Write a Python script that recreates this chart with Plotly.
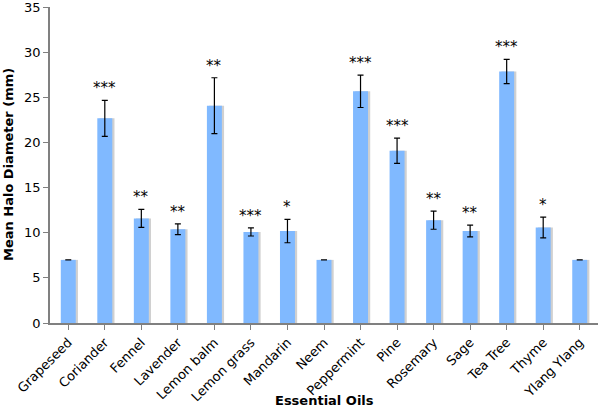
import plotly.graph_objects as go

oils = ["Grapeseed", "Coriander", "Fennel", "Lavender", "Lemon balm", "Lemon grass",
        "Mandarin", "Neem", "Peppermint", "Pine", "Rosemary", "Sage", "Tea Tree",
        "Thyme", "Ylang Ylang"]
means = [7.0, 22.7, 11.6, 10.4, 24.1, 10.1, 10.2, 7.0, 25.7, 19.1, 11.4, 10.2, 27.9, 10.6, 7.0]
errors = [0.0, 2.0, 1.0, 0.6, 3.1, 0.45, 1.3, 0.0, 1.8, 1.4, 1.0, 0.65, 1.35, 1.15, 0.0]
stars = ["", "***", "**", "**", "**", "***", "*", "", "***", "***", "**", "**", "***", "*", ""]
yticks = [0, 5, 10, 15, 20, 25, 30, 35]

FONT = "DejaVu Sans"
fig = go.Figure()

# shadow
fig.add_trace(go.Bar(
    x=list(range(len(oils))), y=means, width=0.41, offset=-0.205 + 0.06,
    marker=dict(color="#d0d0d0", line=dict(width=0)), hoverinfo="skip", showlegend=False))
# main bars
fig.add_trace(go.Bar(
    x=list(range(len(oils))), y=means, width=0.41, offset=-0.205,
    marker=dict(color="#80b9ff", line=dict(width=0)),
    error_y=dict(type="data", array=errors, color="black", thickness=1.2, width=3),
    showlegend=False))

for i, (m, e, s) in enumerate(zip(means, errors, stars)):
    if s:
        fig.add_annotation(x=i, y=m + e, text=s, showarrow=False, yanchor="bottom",
                           yshift=1, font=dict(family=FONT, size=15, color="black"))

fig.add_annotation(text="<b>Essential Oils</b>", xref="paper", yref="paper", x=0.5, y=0,
                   yshift=-77, xanchor="center", yanchor="middle", showarrow=False,
                   font=dict(family=FONT, size=13, color="black"))
fig.add_annotation(text="<b>Mean Halo Diameter (mm)</b>", xref="paper", yref="paper", x=0, y=0.5,
                   xshift=-42, xanchor="center", yanchor="middle", showarrow=False, textangle=-90,
                   font=dict(family=FONT, size=13, color="black"))

fig.update_layout(
    width=600, height=414,
    margin=dict(l=50, r=2, t=7, b=91),
    plot_bgcolor="white", paper_bgcolor="white",
    barmode="overlay",
    xaxis=dict(
        tickmode="array", tickvals=list(range(len(oils))), ticktext=oils,
        range=[-0.5, len(oils) - 0.5], tickangle=-45, automargin=False,
        showline=True, linecolor="#808080", linewidth=1.5,
        ticks="outside", tickcolor="#808080", ticklen=5,
        showgrid=False, zeroline=False, ticklabeloverflow="allow",
        tickfont=dict(family=FONT, size=13, color="black"),
    ),
    yaxis=dict(
        range=[0, 35.05], tickmode="array", tickvals=yticks,
        automargin=False, ticklabeloverflow="allow",
        showline=True, linecolor="#808080", linewidth=1.5,
        ticks="outside", tickcolor="#808080", ticklen=5,
        showgrid=False, zeroline=False,
        tickfont=dict(family=FONT, size=13, color="black"),
    ),
)

fig.update_xaxes(tickson="boundaries")

fig.write_html("out.html", post_script="document.body.style.margin='0';",
               config={"displayModeBar": False})
